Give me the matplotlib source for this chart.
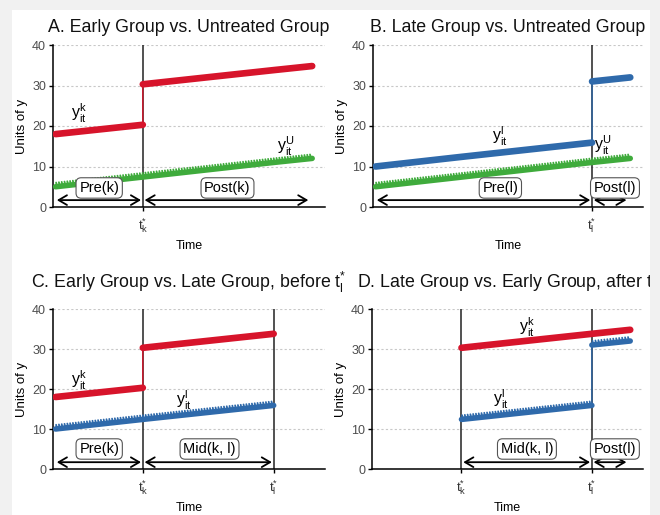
import matplotlib
matplotlib.use("Agg")
import matplotlib.pyplot as plt
import matplotlib.patheffects as pe
from matplotlib.patches import Rectangle

plt.rcParams['font.family'] = ['Liberation Sans', 'DejaVu Sans']
plt.rcParams['mathtext.fontset'] = 'custom'
plt.rcParams['mathtext.rm'] = 'Liberation Sans'
plt.rcParams['mathtext.it'] = 'Liberation Sans'

#---- data ----
t_k = 34
t_l = 85
t_end = 100

# early treated group (k)
early_t = [0, 34, 34, 85, 100]
early_y = [18.0, 20.3, 30.3, 33.8, 34.8]
# late treated group (l)
late_t = [0, 34, 85, 85, 100]
late_y = [10.0, 12.4, 15.9, 31.0, 32.0]
# untreated group (U)
untr_t = [0, 34, 85, 100]
untr_y = [5.0, 7.4, 11.0, 12.0]

RED = '#d7142b'
GREEN = '#3fab3c'
BLUE = '#2f6aab'

W, H = 660, 515
fig = plt.figure(figsize=(W / 100, H / 100), dpi=100)
fig.patch.set_facecolor('#f1f1f1')
white = Rectangle((12 / W, 0), (650 - 12) / W, (H - 10) / H, transform=fig.transFigure,
                  facecolor='white', edgecolor='none', zorder=-10)
fig.patches.append(white)


def px_axes(left, right, top, bottom):
    return fig.add_axes([left / W, 1 - bottom / H, (right - left) / W, (bottom - top) / H])


def draw_series(ax, t, y, color, jagged=False):
    # thin connecting line incl. the jump, thick segments elsewhere
    ax.plot(t, y, color=color, lw=1.0, zorder=3, solid_capstyle='butt')
    seg_t, seg_y = [t[0]], [y[0]]
    segs = []
    for i in range(1, len(t)):
        if t[i] == t[i - 1]:
            segs.append((seg_t, seg_y))
            seg_t, seg_y = [], []
        seg_t.append(t[i])
        seg_y.append(y[i])
    segs.append((seg_t, seg_y))
    for st, sy in segs:
        if len(st) < 2:
            continue
        if jagged:
            ax.plot(st, sy, color=color, lw=4.0, zorder=3, solid_capstyle='round',
                    path_effects=[pe.withTickedStroke(spacing=2.0, angle=95, length=1.5,
                                                      linewidth=1.3, foreground=color)])
        else:
            ax.plot(st, sy, color=color, lw=4.8, zorder=3, solid_capstyle='round')


def setup(ax, vlines, xticklabels):
    ax.set_xlim(-1, 105)
    ax.set_ylim(0, 40)
    for s in ['top', 'right']:
        ax.spines[s].set_visible(False)
    for s in ['left', 'bottom']:
        ax.spines[s].set_linewidth(1.1)
    ax.set_yticks([0, 10, 20, 30, 40])
    ax.tick_params(axis='y', labelsize=9, labelcolor='#4d4d4d', color='black',
                   length=3, width=1, pad=2)
    ax.set_xticks(vlines)
    ax.set_xticklabels(xticklabels)
    ax.tick_params(axis='x', labelsize=9.5, length=3, width=1, pad=4, color='black',
                   labelcolor='#333333')
    ax.yaxis.grid(True, linestyle=(0, (2, 2)), color='#c8c8c8', lw=0.8)
    ax.set_axisbelow(True)
    for v in vlines:
        ax.axvline(v, color='#222222', lw=1.1, zorder=2)
    ax.set_ylabel('Units of y', fontsize=9.5, labelpad=3)
    ax.set_xlabel('Time', fontsize=9, labelpad=3)


def label_box(ax, x, y, s):
    ax.text(x, y, s, ha='center', va='center', fontsize=10.5, zorder=5,
            bbox=dict(boxstyle='round,pad=0.22,rounding_size=0.35', fc='white',
                      ec='#555555', lw=0.8))


def arrow(ax, x0, x1, y=1.7):
    ax.annotate('', xy=(x1, y), xytext=(x0, y),
                arrowprops=dict(arrowstyle='<->,head_length=0.6,head_width=0.35',
                                lw=1.3, color='black', shrinkA=0, shrinkB=0), zorder=4)


def ylab(ax, x, y, sup):
    ax.text(x, y, r'$\mathrm{y}_{\mathrm{it}}^{\mathrm{%s}}$' % sup, ha='center', va='center',
            fontsize=11.5, zorder=5)


TK = r'$\mathrm{t}_{\mathrm{k}}^{*}$'
TL = r'$\mathrm{t}_{\mathrm{l}}^{*}$'

#---- A ----
axA = px_axes(53, 325, 45, 207)
setup(axA, [t_k], [TK])
draw_series(axA, untr_t, untr_y, GREEN, jagged=True)
draw_series(axA, early_t, early_y, RED)
ylab(axA, 9, 23, 'k')
ylab(axA, 89.5, 15, 'U')
arrow(axA, 0.5, 33.3)
arrow(axA, 34.7, 98.5)
label_box(axA, 17, 4.7, 'Pre(k)')
label_box(axA, 67, 4.7, 'Post(k)')

#---- B ----
axB = px_axes(373, 643, 45, 207)
setup(axB, [t_l], [TL])
draw_series(axB, untr_t, untr_y, GREEN, jagged=True)
draw_series(axB, late_t, late_y, BLUE)
ylab(axB, 49, 17.5, 'l')
ylab(axB, 89, 15.3, 'U')
arrow(axB, 0.5, 84.3)
arrow(axB, 85.7, 98.5)
label_box(axB, 49, 4.7, 'Pre(l)')
label_box(axB, 94, 4.7, 'Post(l)')

#---- C ----
axC = px_axes(53, 325, 309, 469)
setup(axC, [t_k, t_l], [TK, TL])
draw_series(axC, late_t[:3], late_y[:3], BLUE, jagged=True)
draw_series(axC, early_t[:4], early_y[:4], RED)
ylab(axC, 9, 22.2, 'k')
ylab(axC, 50, 17.2, 'l')
arrow(axC, 0.5, 33.3)
arrow(axC, 34.7, 84.3)
label_box(axC, 17, 5, 'Pre(k)')
label_box(axC, 60, 5, 'Mid(k, l)')

#---- D ----
axD = px_axes(372, 643, 309, 469)
setup(axD, [t_k, t_l], [TK, TL])
draw_series(axD, late_t[1:], late_y[1:], BLUE, jagged=True)
draw_series(axD, early_t[2:], early_y[2:], RED)
ylab(axD, 59.6, 35.5, 'k')
ylab(axD, 49.5, 17.5, 'l')
arrow(axD, 34.7, 84.3)
arrow(axD, 85.7, 98.5)
label_box(axD, 59.6, 5, 'Mid(k, l)')
label_box(axD, 94, 5, 'Post(l)')

#---- titles ----
titles = [
    ((53 + 325) / 2, 27, 'A. Early Group vs. Untreated Group'),
    ((373 + 643) / 2, 27, 'B. Late Group vs. Untreated Group'),
    ((53 + 325) / 2, 282, r'C. Early Group vs. Late Group, before $\mathrm{t}_{\mathrm{l}}^{*}$'),
    ((372 + 643) / 2, 282, r'D. Late Group vs. Early Group, after $\mathrm{t}_{\mathrm{l}}^{*}$'),
]
for x, y, s in titles:
    txt = fig.text(x / W, 1 - y / H, s, ha='center', va='center', fontsize=12.8, color='#111111')
    txt.set_clip_path(white)

fig.savefig('out.png', dpi=100, facecolor=fig.get_facecolor())
